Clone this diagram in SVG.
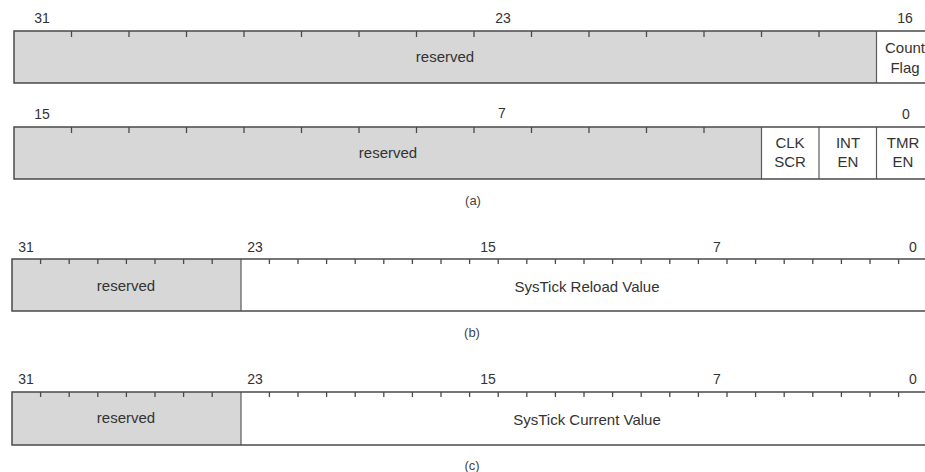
<svg xmlns="http://www.w3.org/2000/svg" width="925" height="472" viewBox="0 0 925 472">
<style>
.res{fill:#d7d7d7;stroke:none}
.frame{fill:none;stroke:#4a4a4a;stroke-width:1.5}
.sep{stroke:#5a5a5a;stroke-width:1.2}
.tick{stroke:#4a4a4a;stroke-width:1.3}
.num{font-family:"Liberation Sans",Arial,sans-serif;font-size:14px;fill:#333;text-anchor:middle}
.lbl{font-family:"Liberation Sans",Arial,sans-serif;font-size:15px;fill:#333;text-anchor:middle}
.cap{font-family:"Liberation Sans",Arial,sans-serif;font-size:13px;fill:#444;text-anchor:middle}
</style>
<rect width="925" height="472" fill="#fff"/>

<!-- (a) upper register -->
<g id="ctrl-hi">
<rect class="res" x="14" y="31" width="862.5" height="52"/>
<line class="sep" x1="876.5" y1="31" x2="876.5" y2="83"/>
<rect class="frame" x="14" y="31" width="920" height="52"/>
<g class="tick">
<line x1="71.5" y1="31" x2="71.5" y2="37"/><line x1="129" y1="31" x2="129" y2="37"/><line x1="186.5" y1="31" x2="186.5" y2="37"/><line x1="244" y1="31" x2="244" y2="37"/><line x1="301.5" y1="31" x2="301.5" y2="37"/><line x1="359" y1="31" x2="359" y2="37"/><line x1="416.5" y1="31" x2="416.5" y2="37"/><line x1="474" y1="31" x2="474" y2="37"/><line x1="531.5" y1="31" x2="531.5" y2="37"/><line x1="589" y1="31" x2="589" y2="37"/><line x1="646.5" y1="31" x2="646.5" y2="37"/><line x1="704" y1="31" x2="704" y2="37"/><line x1="761.5" y1="31" x2="761.5" y2="37"/><line x1="819" y1="31" x2="819" y2="37"/>
</g>
<text class="num" x="42" y="23">31</text>
<text class="num" x="503" y="23">23</text>
<text class="num" x="905" y="23">16</text>
<text class="lbl" x="445" y="62">reserved</text>
<text class="lbl" x="905" y="53">Count</text>
<text class="lbl" x="905" y="73">Flag</text>
</g>

<!-- (a) lower register -->
<g id="ctrl-lo">
<rect class="res" x="14" y="127" width="747.5" height="52"/>
<line class="sep" x1="761.5" y1="127" x2="761.5" y2="179"/>
<line class="sep" x1="819" y1="127" x2="819" y2="179"/>
<line class="sep" x1="876.5" y1="127" x2="876.5" y2="179"/>
<rect class="frame" x="14" y="127" width="920" height="52"/>
<g class="tick">
<line x1="71.5" y1="127" x2="71.5" y2="133"/><line x1="129" y1="127" x2="129" y2="133"/><line x1="186.5" y1="127" x2="186.5" y2="133"/><line x1="244" y1="127" x2="244" y2="133"/><line x1="301.5" y1="127" x2="301.5" y2="133"/><line x1="359" y1="127" x2="359" y2="133"/><line x1="416.5" y1="127" x2="416.5" y2="133"/><line x1="474" y1="127" x2="474" y2="133"/><line x1="531.5" y1="127" x2="531.5" y2="133"/><line x1="589" y1="127" x2="589" y2="133"/><line x1="646.5" y1="127" x2="646.5" y2="133"/><line x1="704" y1="127" x2="704" y2="133"/>
</g>
<text class="num" x="42" y="119">15</text>
<text class="num" x="502" y="118">7</text>
<text class="num" x="906" y="119">0</text>
<text class="lbl" x="388" y="158">reserved</text>
<text class="lbl" x="790" y="148">CLK</text>
<text class="lbl" x="790" y="167">SCR</text>
<text class="lbl" x="848" y="148">INT</text>
<text class="lbl" x="848" y="167">EN</text>
<text class="lbl" x="903" y="148">TMR</text>
<text class="lbl" x="903" y="167">EN</text>
</g>
<text class="cap" x="473" y="205">(a)</text>

<!-- (b) reload value register -->
<g id="reload">
<rect class="res" x="12" y="259" width="229" height="52"/>
<line class="sep" x1="241" y1="259" x2="241" y2="311"/>
<rect class="frame" x="12" y="259" width="920" height="52"/>
<g class="tick">
<line x1="40.6" y1="259" x2="40.6" y2="264"/><line x1="69.2" y1="259" x2="69.2" y2="264"/><line x1="97.8" y1="259" x2="97.8" y2="264"/><line x1="126.4" y1="259" x2="126.4" y2="264"/><line x1="155" y1="259" x2="155" y2="264"/><line x1="183.6" y1="259" x2="183.6" y2="264"/><line x1="212.2" y1="259" x2="212.2" y2="264"/><line x1="269.4" y1="259" x2="269.4" y2="264"/><line x1="298" y1="259" x2="298" y2="264"/><line x1="326.6" y1="259" x2="326.6" y2="264"/><line x1="355.2" y1="259" x2="355.2" y2="264"/><line x1="383.8" y1="259" x2="383.8" y2="264"/><line x1="412.4" y1="259" x2="412.4" y2="264"/><line x1="441" y1="259" x2="441" y2="264"/><line x1="469.6" y1="259" x2="469.6" y2="264"/><line x1="498.2" y1="259" x2="498.2" y2="264"/><line x1="526.8" y1="259" x2="526.8" y2="264"/><line x1="555.4" y1="259" x2="555.4" y2="264"/><line x1="584" y1="259" x2="584" y2="264"/><line x1="612.6" y1="259" x2="612.6" y2="264"/><line x1="641.2" y1="259" x2="641.2" y2="264"/><line x1="669.8" y1="259" x2="669.8" y2="264"/><line x1="698.4" y1="259" x2="698.4" y2="264"/><line x1="727" y1="259" x2="727" y2="264"/><line x1="755.6" y1="259" x2="755.6" y2="264"/><line x1="784.2" y1="259" x2="784.2" y2="264"/><line x1="812.8" y1="259" x2="812.8" y2="264"/><line x1="841.4" y1="259" x2="841.4" y2="264"/><line x1="870" y1="259" x2="870" y2="264"/><line x1="898.6" y1="259" x2="898.6" y2="264"/>
</g>
<text class="num" x="26" y="252">31</text>
<text class="num" x="255" y="252">23</text>
<text class="num" x="488" y="252">15</text>
<text class="num" x="717" y="252">7</text>
<text class="num" x="913" y="252">0</text>
<text class="lbl" x="126" y="291">reserved</text>
<text class="lbl" x="587" y="292">SysTick Reload Value</text>
</g>
<text class="cap" x="472" y="337">(b)</text>

<!-- (c) current value register -->
<g id="current">
<rect class="res" x="12" y="392" width="229" height="53"/>
<line class="sep" x1="241" y1="392" x2="241" y2="445"/>
<rect class="frame" x="12" y="392" width="920" height="53"/>
<g class="tick">
<line x1="40.6" y1="392" x2="40.6" y2="397"/><line x1="69.2" y1="392" x2="69.2" y2="397"/><line x1="97.8" y1="392" x2="97.8" y2="397"/><line x1="126.4" y1="392" x2="126.4" y2="397"/><line x1="155" y1="392" x2="155" y2="397"/><line x1="183.6" y1="392" x2="183.6" y2="397"/><line x1="212.2" y1="392" x2="212.2" y2="397"/><line x1="269.4" y1="392" x2="269.4" y2="397"/><line x1="298" y1="392" x2="298" y2="397"/><line x1="326.6" y1="392" x2="326.6" y2="397"/><line x1="355.2" y1="392" x2="355.2" y2="397"/><line x1="383.8" y1="392" x2="383.8" y2="397"/><line x1="412.4" y1="392" x2="412.4" y2="397"/><line x1="441" y1="392" x2="441" y2="397"/><line x1="469.6" y1="392" x2="469.6" y2="397"/><line x1="498.2" y1="392" x2="498.2" y2="397"/><line x1="526.8" y1="392" x2="526.8" y2="397"/><line x1="555.4" y1="392" x2="555.4" y2="397"/><line x1="584" y1="392" x2="584" y2="397"/><line x1="612.6" y1="392" x2="612.6" y2="397"/><line x1="641.2" y1="392" x2="641.2" y2="397"/><line x1="669.8" y1="392" x2="669.8" y2="397"/><line x1="698.4" y1="392" x2="698.4" y2="397"/><line x1="727" y1="392" x2="727" y2="397"/><line x1="755.6" y1="392" x2="755.6" y2="397"/><line x1="784.2" y1="392" x2="784.2" y2="397"/><line x1="812.8" y1="392" x2="812.8" y2="397"/><line x1="841.4" y1="392" x2="841.4" y2="397"/><line x1="870" y1="392" x2="870" y2="397"/><line x1="898.6" y1="392" x2="898.6" y2="397"/>
</g>
<text class="num" x="26" y="384">31</text>
<text class="num" x="255" y="384">23</text>
<text class="num" x="488" y="384">15</text>
<text class="num" x="717" y="384">7</text>
<text class="num" x="913" y="384">0</text>
<text class="lbl" x="126" y="423">reserved</text>
<text class="lbl" x="587" y="425">SysTick Current Value</text>
</g>
<text class="cap" x="472" y="470">(c)</text>
</svg>
